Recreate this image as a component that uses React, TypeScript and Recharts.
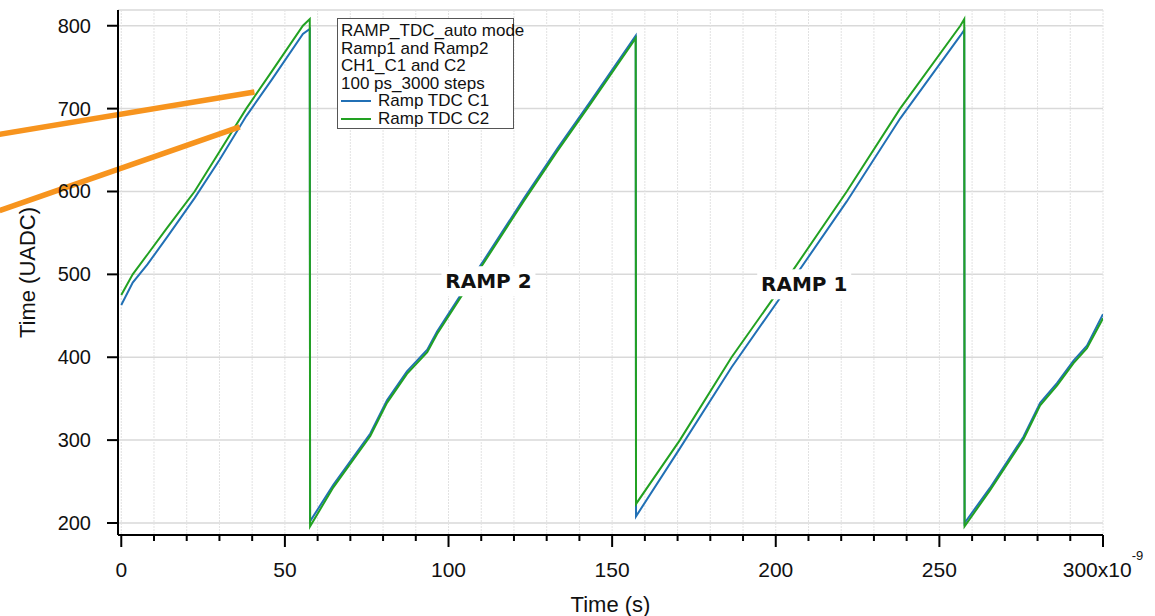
import { LineChart, Line, XAxis, YAxis, CartesianGrid, Legend, ReferenceLine, ReferenceDot } from 'recharts';

// time in ns, one shared sample grid for both TDC channels
const timeNs = [
  0, 3.5, 8, 14, 22.4, 30, 38.2, 46, 55.5, 57.6,
  57.7, 64.8, 76.1, 81.2, 87.3, 93.5, 96.5, 103.7, 110.8, 123.1, 133.3, 143.6, 157.2,
  157.3, 170.7, 186.5, 204.4, 221.7, 238, 256.4, 257.6,
  257.7, 265.4, 275.7, 280.8, 286, 291, 295.1, 300,
];

const rampC1 = [
  463, 490, 512, 545, 592, 638, 691, 735, 790, 796,
  202, 246, 308, 348, 383, 409, 431, 475, 517, 592, 652, 710, 788,
  208, 290, 388, 489, 588, 688, 788, 795,
  200, 242, 304, 345, 369, 396, 414, 452,
];

const rampC2 = [
  475, 500, 524, 556, 600, 648, 700, 745, 800, 808,
  196, 243, 305, 345, 380, 406, 428, 472, 514, 589, 649, 707, 785,
  223, 300, 400, 500, 600, 700, 800, 808,
  196, 239, 301, 342, 366, 393, 411, 447,
];

const xTicks = [
  0, 10, 20, 30, 40, 50, 60, 70, 80, 90, 100, 110, 120, 130, 140, 150,
  160, 170, 180, 190, 200, 210, 220, 230, 240, 250, 260, 270, 280, 290, 300,
];
const yTicks = [200, 300, 400, 500, 600, 700, 800];

const legendNotes = ['RAMP_TDC_auto mode', 'Ramp1 and Ramp2', 'CH1_C1 and C2', '100 ps_3000 steps'];

const data = timeNs.map((t, i) => ({ t, c1: rampC1[i], c2: rampC2[i] }));

const FONT = '"Liberation Sans", Arial, Helvetica, sans-serif';

const XTick = ({ x, y, payload }: any) => {
  const v = payload.value;
  const major = v % 50 === 0;
  return (
    <g>
      <line x1={x} x2={x} y1={y} y2={y + (major ? 12 : 6)} stroke="#000" strokeWidth={2} />
      {major && (
        <text x={x} y={y + 42} textAnchor="middle" fontFamily={FONT} fontSize={21} fill="#111">
          {v === 300 ? (
            <>
              300x10<tspan dy={-17} fontSize={13}>-9</tspan>
            </>
          ) : (
            v
          )}
        </text>
      )}
    </g>
  );
};

const YTick = ({ x, y, payload }: any) => (
  <g>
    <line x1={x - 11} x2={x} y1={y} y2={y} stroke="#000" strokeWidth={2} />
    <text x={x - 27} y={y + 7} textAnchor="end" fontFamily={FONT} fontSize={20} fill="#111">
      {payload.value}
    </text>
  </g>
);

const LegendBox = ({ payload }: any) => (
  <div
    style={{
      border: '1px solid #555',
      background: '#fff',
      padding: '3px 2px 0 3px',
      fontFamily: FONT,
      fontSize: 17,
      lineHeight: '17.6px',
      color: '#111',
      boxSizing: 'border-box',
      width: 177,
      height: 111,
      whiteSpace: 'nowrap',
    }}
  >
    {legendNotes.map((n) => (
      <div key={n}>{n}</div>
    ))}
    {(payload || []).map((entry: any) => (
      <div key={entry.value} style={{ display: 'flex', alignItems: 'center' }}>
        <span style={{ display: 'inline-block', width: 30, height: 2, background: entry.color, marginRight: 7 }} />
        {entry.value}
      </div>
    ))}
  </div>
);

const rampTag = (text: string) => (p: any) => (
  <g>
    <rect x={p.cx - 47} y={p.cy - 15} width={94} height={30} fill="#fff" />
    <text
      x={p.cx}
      y={p.cy + 7}
      textAnchor="middle"
      fontFamily='"DejaVu Sans", Verdana, sans-serif'
      fontWeight="bold"
      fontSize={20}
      fill="#111"
    >
      {text}
    </text>
  </g>
);

export default function App() {
  return (
    <div style={{ position: 'absolute', left: 0, top: 0, background: '#fff' }}>
      <LineChart width={1155} height={616} data={data} margin={{ top: 10, right: 52, bottom: 31, left: 58 }}>
        <CartesianGrid vertical={false} stroke="#d9d9d9" strokeWidth={1.5} />
        <CartesianGrid horizontal={false} stroke="#e2e2e2" strokeDasharray="2 1" />
        <XAxis
          dataKey="t"
          type="number"
          domain={[-1, 300]}
          ticks={xTicks}
          interval={0}
          allowDataOverflow
          height={50}
          tickSize={0}
          tickMargin={0}
          tickLine={false}
          axisLine={{ stroke: '#000', strokeWidth: 2 }}
          tick={<XTick />}
          label={{
            content: ({ viewBox }: any) => (
              <text
                x={viewBox.x + viewBox.width / 2}
                y={viewBox.y + 77}
                textAnchor="middle"
                fontFamily={FONT}
                fontSize={22}
                fill="#111"
              >
                Time (s)
              </text>
            ),
          }}
        />
        <YAxis
          type="number"
          domain={[185.5, 819]}
          ticks={yTicks}
          interval={0}
          allowDataOverflow
          width={60}
          tickSize={0}
          tickMargin={0}
          tickLine={false}
          axisLine={{ stroke: '#000', strokeWidth: 2 }}
          tick={<YTick />}
          label={{
            content: ({ viewBox }: any) => {
              const cx = viewBox.x - 31;
              const cy = viewBox.y + viewBox.height / 2;
              return (
                <text
                  x={cx}
                  y={cy}
                  transform={`rotate(-90 ${cx} ${cy})`}
                  textAnchor="middle"
                  dominantBaseline="central"
                  fontFamily={FONT}
                  fontSize={22}
                  fill="#111"
                >
                  Time (UADC)
                </text>
              );
            },
          }}
        />
        <Legend
          layout="vertical"
          align="center"
          verticalAlign="middle"
          content={<LegendBox />}
          wrapperStyle={{ left: 337, top: 18, width: 177, height: 111 }}
        />
        <Line
          dataKey="c1"
          name="Ramp TDC C1"
          stroke="#2170b5"
          strokeWidth={2}
          dot={false}
          activeDot={false}
          isAnimationActive={false}
        />
        <Line
          dataKey="c2"
          name="Ramp TDC C2"
          stroke="#22a122"
          strokeWidth={2}
          dot={false}
          activeDot={false}
          isAnimationActive={false}
        />
        <ReferenceDot x={112.2} y={491.7} ifOverflow="visible" shape={rampTag('RAMP 2')} />
        <ReferenceDot x={208.7} y={488} ifOverflow="visible" shape={rampTag('RAMP 1')} />
        <ReferenceLine
          segment={[{ x: -37.2, y: 669 }, { x: 40.7, y: 720 }]}
          stroke="#f7941e"
          strokeWidth={5.5}
          ifOverflow="visible"
        />
        <ReferenceLine
          segment={[{ x: -37.2, y: 577 }, { x: 36.2, y: 678 }]}
          stroke="#f7941e"
          strokeWidth={5.5}
          ifOverflow="visible"
        />
      </LineChart>
    </div>
  );
}
